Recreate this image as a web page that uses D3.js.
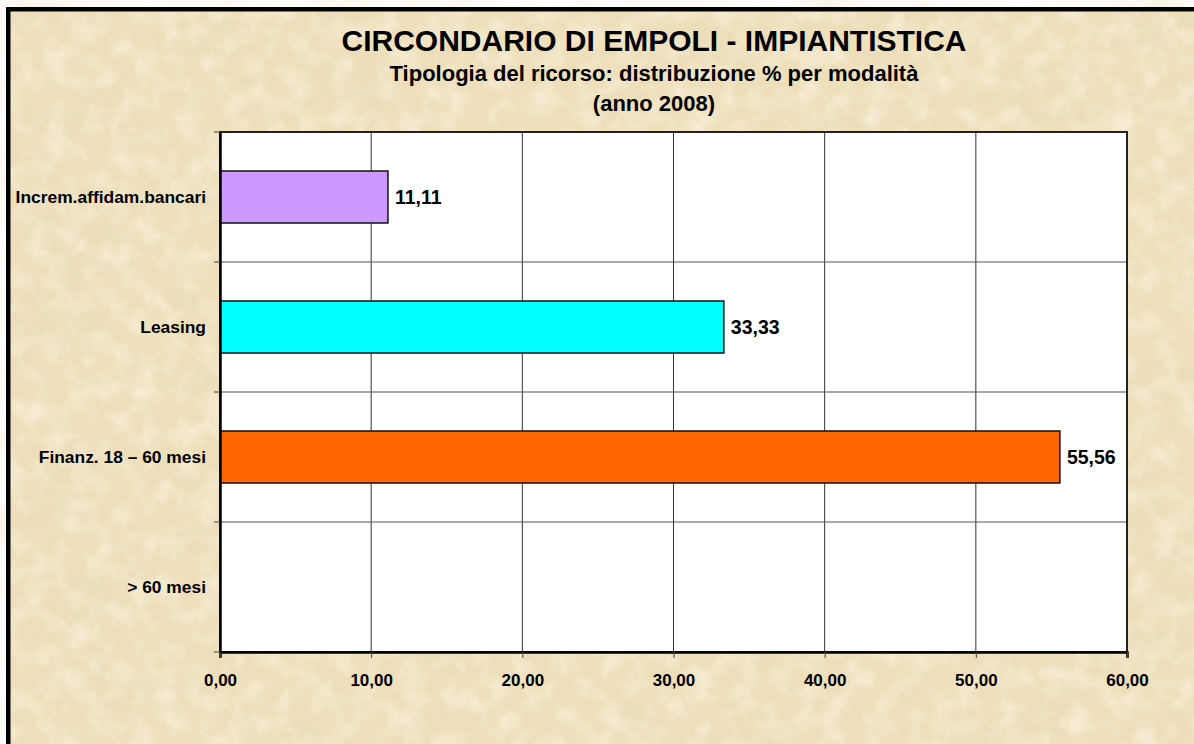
<!DOCTYPE html>
<html>
<head>
<meta charset="utf-8">
<script src="https://cdn.jsdelivr.net/npm/d3@7"></script>
<style>
  html, body { margin: 0; background: #fff; overflow: hidden; }
  svg { display: block; }
  svg text { font-family: "Liberation Sans", Arial, sans-serif; font-weight: bold; fill: #000; }
</style>
</head>
<body>
<div id="chart"></div>
<script>
// data
const categories = ["Increm.affidam.bancari", "Leasing", "Finanz. 18 \u2013 60 mesi", "> 60 mesi"];
const values = [11.11, 33.33, 55.56, null];
const barColors = ["#CC99FF", "#00FFFF", "#FF6600", "#999999"];
const xTicks = [0, 10, 20, 30, 40, 50, 60];
const titleLines = [
  "CIRCONDARIO DI EMPOLI - IMPIANTISTICA",
  "Tipologia del ricorso: distribuzione % per modalit\u00e0",
  "(anno 2008)"
];

let svgWidth = 1194;
let svgHeight = 744;

// plot area
let margin = { top: 132, right: 67, bottom: 92, left: 220 };
let width = svgWidth - margin.left - margin.right;
let height = svgHeight - margin.top - margin.bottom;

let svg = d3.select("#chart")
  .append("svg")
  .attr("width", svgWidth)
  .attr("height", svgHeight);

// parchment look
let defs = svg.append("defs");
let f1 = defs.append("filter").attr("id", "parchDark")
  .attr("filterUnits", "userSpaceOnUse")
  .attr("x", 0).attr("y", 0).attr("width", svgWidth).attr("height", svgHeight);
f1.append("feTurbulence").attr("type", "fractalNoise")
  .attr("baseFrequency", "0.01 0.014").attr("numOctaves", 5).attr("seed", 7);
f1.append("feColorMatrix").attr("type", "matrix")
  .attr("values", "0 0 0 0 0.83  0 0 0 0 0.71  0 0 0 0 0.48  1.0 0 0 0 -0.42");
let f2 = defs.append("filter").attr("id", "parchLight")
  .attr("filterUnits", "userSpaceOnUse")
  .attr("x", 0).attr("y", 0).attr("width", svgWidth).attr("height", svgHeight);
f2.append("feTurbulence").attr("type", "fractalNoise")
  .attr("baseFrequency", "0.045").attr("numOctaves", 4).attr("seed", 21);
f2.append("feColorMatrix").attr("type", "matrix")
  .attr("values", "0 0 0 0 0.98  0 0 0 0 0.94  0 0 0 0 0.84  1.2 0 0 0 -0.5");

let bgX = 8, bgY = 9;
let bg = svg.append("g");
bg.append("rect")
  .attr("x", bgX).attr("y", bgY)
  .attr("width", svgWidth - bgX).attr("height", svgHeight - bgY)
  .attr("fill", "#EEDFBA");
["url(#parchDark)", "url(#parchLight)"].forEach(flt => {
  bg.append("rect")
    .attr("x", bgX).attr("y", bgY)
    .attr("width", svgWidth - bgX).attr("height", svgHeight - bgY)
    .attr("fill", "#EEDFBA")
    .attr("filter", flt);
});

// outer frame: only the top and left edges are in the picture
svg.append("rect")
  .attr("x", 6).attr("y", 7)
  .attr("width", 4.5).attr("height", svgHeight - 7)
  .attr("fill", "#000");
svg.append("rect")
  .attr("x", 6).attr("y", 7)
  .attr("width", svgWidth - 6).attr("height", 4.5)
  .attr("fill", "#000");

// titles
let titleSizes = [30, 22, 22];
let titleY = [51, 81, 111];
titleLines.forEach((t, i) => {
  svg.append("text")
    .attr("x", 654)
    .attr("y", titleY[i])
    .attr("text-anchor", "middle")
    .style("font-size", titleSizes[i] + "px")
    .text(t);
});

let chartGroup = svg.append("g")
  .attr("transform", `translate(${margin.left}, ${margin.top})`);

let xScale = d3.scaleLinear().domain([0, 60]).range([0, width]);
let yScale = d3.scaleBand().domain(categories).range([0, height]).padding(0);
let barH = yScale.bandwidth() * 0.4;

// white plot background
chartGroup.append("rect")
  .attr("width", width).attr("height", height)
  .attr("fill", "#fff");

// vertical grid
chartGroup.selectAll(".vgrid")
  .data(xTicks.slice(1, -1))
  .enter().append("line")
  .attr("x1", d => xScale(d)).attr("x2", d => xScale(d))
  .attr("y1", 0).attr("y2", height)
  .attr("stroke", "#333").attr("stroke-width", 1);

// horizontal grid at band boundaries
chartGroup.selectAll(".hgrid")
  .data(categories.slice(1))
  .enter().append("line")
  .attr("x1", 0).attr("x2", width)
  .attr("y1", d => yScale(d)).attr("y2", d => yScale(d))
  .attr("stroke", "#555").attr("stroke-width", 1.2);

// bars
let barData = categories.map((c, i) => ({ cat: c, val: values[i], color: barColors[i] }))
  .filter(d => d.val !== null);

chartGroup.selectAll(".bar")
  .data(barData)
  .enter().append("rect")
  .attr("x", xScale(0))
  .attr("y", d => yScale(d.cat) + (yScale.bandwidth() - barH) / 2)
  .attr("width", d => xScale(d.val) - xScale(0))
  .attr("height", barH)
  .attr("fill", d => d.color)
  .attr("stroke", "#111")
  .attr("stroke-width", 1.5);

let fmt = v => d3.format(".2f")(v).replace(".", ",");

chartGroup.selectAll(".vlabel")
  .data(barData)
  .enter().append("text")
  .attr("x", d => xScale(d.val) + 7)
  .attr("y", d => yScale(d.cat) + yScale.bandwidth() / 2)
  .attr("dy", "0.36em")
  .style("font-size", "19.5px")
  .text(d => fmt(d.val));

// plot frame top/right
chartGroup.append("rect")
  .attr("width", width).attr("height", height)
  .attr("fill", "none")
  .attr("stroke", "#222").attr("stroke-width", 2);

// x axis
let bottomAxis = d3.axisBottom(xScale)
  .tickValues(xTicks)
  .tickSize(6)
  .tickPadding(16)
  .tickFormat(fmt);
let xAxis = chartGroup.append("g")
  .attr("transform", `translate(0, ${height})`)
  .call(bottomAxis);
xAxis.select(".domain").attr("stroke", "#000").attr("stroke-width", 2.5);
xAxis.selectAll(".tick line").attr("stroke", "#444").attr("stroke-width", 1);
xAxis.selectAll(".tick text")
  .style("font-size", "17px")
  .attr("font-family", null)
  .attr("fill", "#000");

// y axis: labels at band centers, ticks at band boundaries
let leftAxis = d3.axisLeft(yScale).tickSize(0).tickPadding(14);
let yAxis = chartGroup.append("g").call(leftAxis);
yAxis.select(".domain").attr("stroke", "#000").attr("stroke-width", 2.5);
yAxis.selectAll(".tick text")
  .style("font-size", "17.4px")
  .attr("font-family", null)
  .attr("fill", "#000");

let bounds = categories.map(c => yScale(c)).concat([height]);
chartGroup.selectAll(".ytick")
  .data(bounds)
  .enter().append("line")
  .attr("x1", -6).attr("x2", 0)
  .attr("y1", d => d).attr("y2", d => d)
  .attr("stroke", "#444").attr("stroke-width", 1);
</script>
</body>
</html>
